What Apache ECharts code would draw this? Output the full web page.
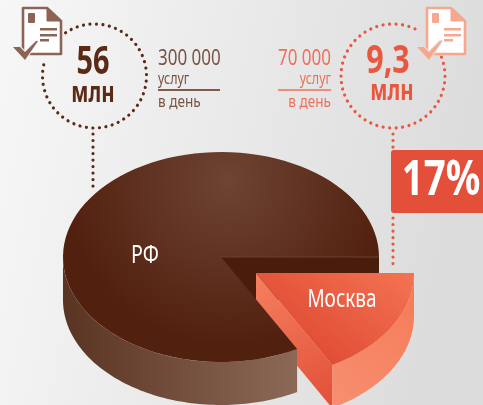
<!DOCTYPE html>
<html>
<head>
<meta charset="utf-8">
<style>
  html, body { margin: 0; padding: 0; }
  #chart { width: 483px; height: 405px; }
</style>
<script src="https://cdn.jsdelivr.net/npm/echarts@6/dist/echarts.min.js"></script>
</head>
<body>
<div id="chart"></div>
<script>
    var categories = ['РФ', 'Москва'];
    var shares = [83, 17];
    var totals = ['56', '9,3'];
    var totalUnit = 'млн';
    var perDay = ['300 000', '70 000'];
    var perDayUnit = 'услуг';
    var perDayNote = 'в день';
    var shareLabel = '17%';

    var FONT = '"Noto Sans", sans-serif';
    var BROWN = '#5b2a17';
    var BROWN_SOFT = '#7a5343';
    var BROWN_ICON = '#8c6354';
    var CORAL = '#e8573e';
    var CORAL_SOFT = '#ee7058';
    var CORAL_ICON = '#f8a78f';

    // pie geometry
    var cx = 221, cy = 257, rx = 158, ry = 105, depth = 43;
    var moveX = 35, moveY = 16; // Москва slice is pulled out

    var chart = echarts.init(document.getElementById('chart'));

    function rim(a, ox, oy) {
        return [cx + ox + rx * Math.cos(a), cy + oy + ry * Math.sin(a)];
    }
    function arcPoints(from, to, ox, oy) {
        var pts = [], n = 90;
        for (var i = 0; i <= n; i++) {
            pts.push(rim(from + (to - from) * i / n, ox, oy));
        }
        return pts;
    }
    function linear(x, y, x2, y2, c1, c2) {
        return new echarts.graphic.LinearGradient(x, y, x2, y2, [
            {offset: 0, color: c1}, {offset: 1, color: c2}
        ]);
    }
    function poly(points, fill, z2) {
        return {type: 'polygon', z2: z2, shape: {points: points}, style: {fill: fill}};
    }
    // no condensed face installed, so text is squeezed with scaleX
    function txt(text, x, y, size, color, squeeze, bold, align) {
        return {
            type: 'text', x: x, y: y, scaleX: squeeze, z2: 10,
            style: {x: 0, y: 0, text: text, fill: color, align: align || 'center', verticalAlign: 'middle',
                font: (bold ? 'bold ' : '') + size + 'px ' + FONT}
        };
    }

    function renderSlice(params, api) {
        var sum = shares[0] + shares[1];
        var moscowEnd = shares[1] / sum * Math.PI * 2;
        var children = [];
        if (api.value(1) === 0) {
            // inner wall goes under Москва, the rest of РФ over its cut side
            var wall = [[cx, cy], rim(0, 0, 0), rim(0, 0, depth), [cx, cy + depth]];
            children.push(poly(wall, '#4a1c0b', 1));
            var side = arcPoints(moscowEnd, Math.PI, 0, 0).concat(arcPoints(Math.PI, moscowEnd, 0, depth));
            children.push(poly(side, linear(0, 0, 1, 0, '#5a3423', '#8c6957'), 3));
            var top = [[cx, cy]].concat(arcPoints(moscowEnd, Math.PI * 2, 0, 0));
            children.push(poly(top, new echarts.graphic.RadialGradient(0.52, 0.14, 0.78, [
                {offset: 0, color: '#6e4433'},
                {offset: 1, color: '#52200e'}
            ]), 3));
            children.push({
                type: 'line', z2: 3,
                shape: {x1: cx, y1: cy, x2: cx + rx, y2: cy},
                style: {stroke: '#6b4030', lineWidth: 1}
            });
            children.push(txt(categories[0], 145, 256, 26, '#fff', 0.76));
        } else {
            var apex = [cx + moveX, cy + moveY];
            var cutEdge = rim(moscowEnd, moveX, moveY);
            children.push(poly([apex, cutEdge, [cutEdge[0], cutEdge[1] + depth], [apex[0], apex[1] + depth]],
                linear(0, 0, 1, 1, '#f58060', '#e24f37'), 2));
            var outer = arcPoints(0, moscowEnd, moveX, moveY).concat(arcPoints(moscowEnd, 0, moveX, moveY + depth));
            children.push(poly(outer, linear(0, 1, 1, 0, '#f78f70', '#f47a57'), 2));
            var face = [apex].concat(arcPoints(0, moscowEnd, moveX, moveY));
            children.push(poly(face, linear(0.95, 0, 0.5, 1, '#f37252', '#e14e36'), 2));
            children.push(txt(categories[1], 342, 300, 26, '#fff', 0.73));
        }
        return {type: 'group', children: children};
    }

    function dots(shape, color) {
        return {type: shape.r ? 'arc' : 'line', shape: shape, silent: true,
            style: {fill: null, stroke: color, lineWidth: 3.2, lineCap: 'round', lineDash: [0.01, 6.5]}};
    }
    function docIcon(x, color, checkX, halo) {
        // sheet with folded corner, small square, three lines and a tick
        var y = 8;
        return [
            {type: 'polygon', z: 3, shape: {points: [[x, y], [x + 24, y], [x + 38, y + 13], [x + 38, y + 46], [x, y + 46]]},
                style: {fill: '#fff', stroke: color, lineWidth: 2.6, lineJoin: 'round'}},
            {type: 'polygon', z: 3, shape: {points: [[x + 24, y], [x + 38, y + 13], [x + 24, y + 13]]},
                style: {fill: color, stroke: color, lineWidth: 1, lineJoin: 'round'}},
            {type: 'rect', z: 3, shape: {x: x + 5, y: y + 5, width: 7, height: 10, r: 1}, style: {fill: color}},
            {type: 'rect', z: 3, shape: {x: x + 17, y: y + 20, width: 17, height: 2.5}, style: {fill: color}},
            {type: 'rect', z: 3, shape: {x: x + 17, y: y + 26, width: 17, height: 2.5}, style: {fill: color}},
            {type: 'rect', z: 3, shape: {x: x + 17, y: y + 31, width: 9, height: 2.5}, style: {fill: color}},
            {type: 'polygon', z: 3, z2: 2, shape: {points: [[checkX, 47], [checkX + 7, 47], [checkX + 12, 52],
                [checkX + 23, 41], [checkX + 25, 41], [checkX + 12, 60]]},
                style: {fill: color, stroke: halo, lineWidth: 2, lineJoin: 'round', strokeFirst: true}}
        ];
    }

    var deco = [].concat(
        // left block
        [dots({cx: 94.5, cy: 76, r: 52, startAngle: -2.16, endAngle: 3.47, clockwise: true}, BROWN)],
        [dots({x1: 93, y1: 134, x2: 93, y2: 192}, BROWN)],
        docIcon(23, BROWN_ICON, 13, '#f5f5f5'),
        [
            txt(totals[0], 93, 63, 39, BROWN, 0.74, true),
            txt(totalUnit, 93, 94, 28, BROWN, 0.73, true),
            txt(perDay[0], 158, 59, 21, BROWN_SOFT, 0.81, false, 'left'),
            txt(perDayUnit, 158, 79, 16, BROWN_SOFT, 0.78, false, 'left'),
            {type: 'line', shape: {x1: 158, y1: 90, x2: 220, y2: 90}, style: {stroke: BROWN, lineWidth: 1.5}},
            txt(perDayNote, 158, 102, 16, BROWN_SOFT, 0.85, false, 'left')
        ],
        // right block
        [dots({cx: 393, cy: 76, r: 52, startAngle: -0.37, endAngle: 5.27, clockwise: true}, CORAL)],
        [dots({x1: 393, y1: 134, x2: 393, y2: 150}, CORAL)],
        [dots({x1: 393, y1: 218, x2: 393, y2: 268}, CORAL)],
        docIcon(427, CORAL_ICON, 417, '#e2e2e2'),
        [
            txt(totals[1], 388, 62, 39, CORAL, 0.78, true),
            txt(totalUnit, 392, 92, 28, CORAL, 0.73, true),
            txt(perDay[1], 331, 59, 21, CORAL_SOFT, 0.81, false, 'right'),
            txt(perDayUnit, 331, 79, 16, CORAL_SOFT, 0.78, false, 'right'),
            {type: 'line', shape: {x1: 278, y1: 90, x2: 331, y2: 90}, style: {stroke: CORAL_SOFT, lineWidth: 1.5}},
            txt(perDayNote, 331, 102, 16, CORAL_SOFT, 0.85, false, 'right'),
            {type: 'rect', z: 4, shape: {x: 391, y: 150, width: 96, height: 63, r: 3}, style: {fill: '#e34f38'}},
            {type: 'text', z: 5, x: 441, y: 181, scaleX: 0.8,
                style: {x: 0, y: 0, text: shareLabel, fill: '#fff', align: 'center', verticalAlign: 'middle', font: 'bold 48px ' + FONT}}
        ]
    );

    var option = {
        animation: false,
        backgroundColor: new echarts.graphic.LinearGradient(0, 0, 1, 0.25, [
            {offset: 0, color: '#f7f7f7'},
            {offset: 1, color: '#dcdcdc'}
        ]),
        graphic: {elements: deco},
        series: [{
            type: 'custom',
            coordinateSystem: 'none',
            renderItem: renderSlice,
            data: shares.map(function (v, i) { return [v, i]; })
        }]
    };
    chart.setOption(option);
</script>
</body>
</html>
